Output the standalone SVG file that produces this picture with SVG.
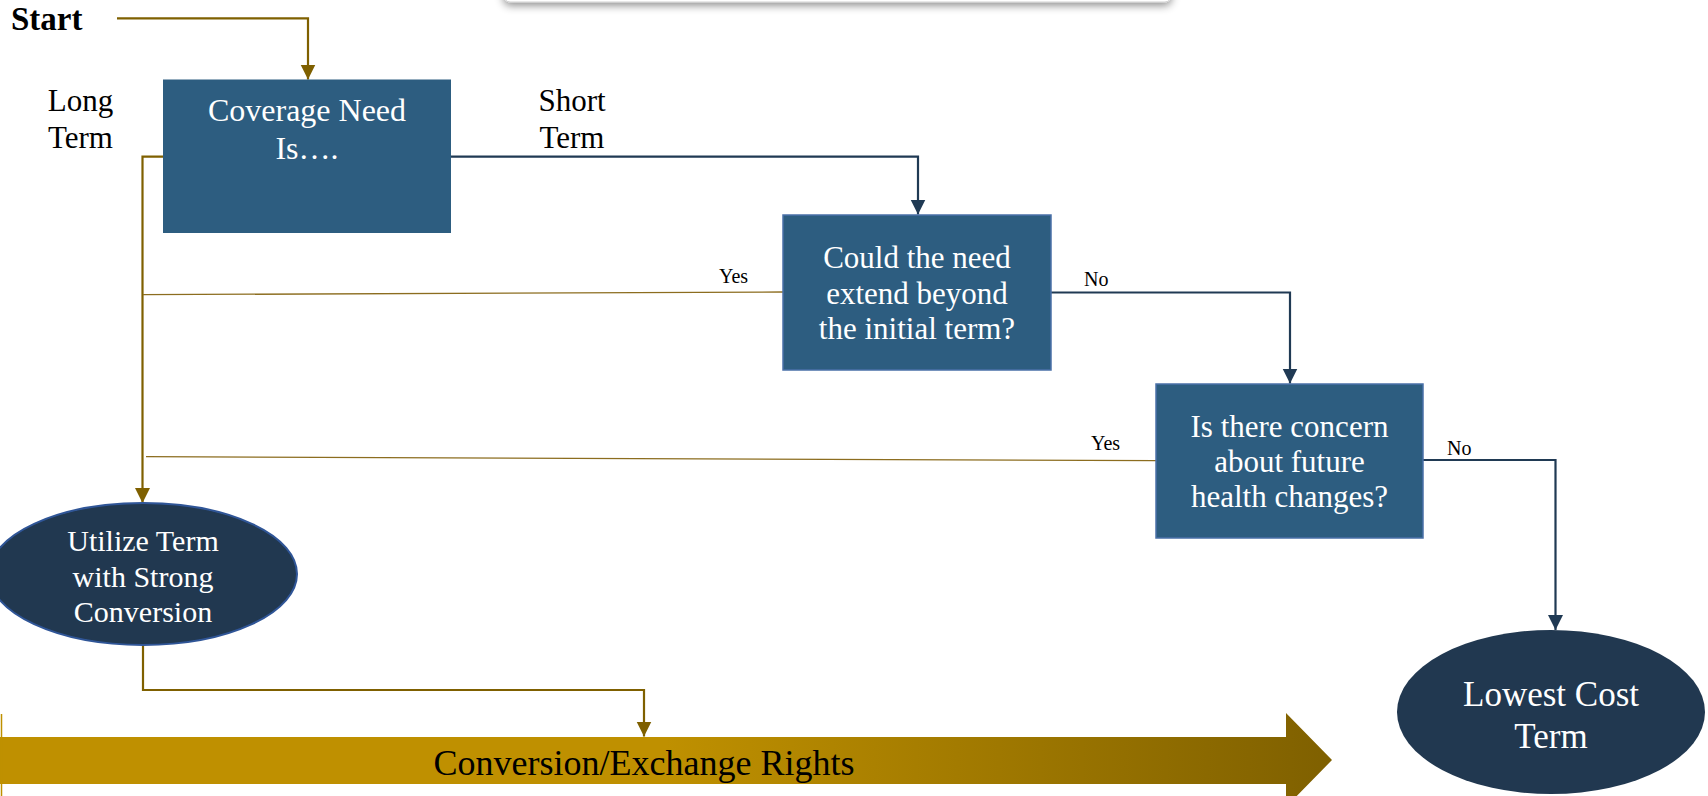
<svg xmlns="http://www.w3.org/2000/svg" width="1708" height="796" viewBox="0 0 1708 796">
<defs>
<style>
.lbl{font-family:"Liberation Serif","Times New Roman",serif;fill:#000}
.wt{font-family:"Liberation Serif","Times New Roman",serif;fill:#fff;text-anchor:middle}
.box{fill:#2d5d80}
.dec{fill:#2d5d80;stroke:#4a70a8;stroke-width:1.5}
.oval{fill:#213850}
.gold{fill:none;stroke:#7f6000;stroke-width:2.2}
.goldthin{fill:none;stroke:#8c6d1f;stroke-width:1.3}
.navy{fill:none;stroke:#203a54;stroke-width:2.2}
</style>
<marker id="ag" markerUnits="userSpaceOnUse" markerWidth="16" markerHeight="16" viewBox="0 0 16 16" refX="15" refY="8" orient="auto">
<path d="M0,0.5 L15,8 L0,15.5 Z" fill="#7f6000"/>
</marker>
<marker id="an" markerUnits="userSpaceOnUse" markerWidth="16" markerHeight="16" viewBox="0 0 16 16" refX="15" refY="8" orient="auto">
<path d="M0,0.5 L15,8 L0,15.5 Z" fill="#203a54"/>
</marker>
<linearGradient id="band" x1="0" y1="0" x2="1332" y2="0" gradientUnits="userSpaceOnUse">
<stop offset="0" stop-color="#bf9000"/>
<stop offset="0.5" stop-color="#bf9000"/>
<stop offset="1" stop-color="#7f6000"/>
</linearGradient>
<filter id="sh" x="-10%" y="-100%" width="120%" height="400%">
<feDropShadow dx="0" dy="3" stdDeviation="4" flood-color="#000" flood-opacity="0.45"/>
</filter>
</defs>

<g id="topbox">
<rect x="504" y="-30" width="667" height="32" rx="6" fill="#fff" stroke="#d0d0d0" stroke-width="1" filter="url(#sh)"/>
</g>

<g id="band-arrow">
<polygon points="0,737 1286,737 1286,713 1332,760 1286,807 1286,784 0,784" fill="url(#band)"/>
<line x1="1.5" y1="714" x2="1.5" y2="796" stroke="#bf9000" stroke-width="1.5"/>
<text class="lbl" x="644" y="775" font-size="36" text-anchor="middle">Conversion/Exchange Rights</text>
</g>

<g id="connectors">
<path class="gold" d="M117,18.3 H308 V79.5" marker-end="url(#ag)"/>
<path class="gold" d="M163,156.7 H142.5 V503" marker-end="url(#ag)"/>
<path class="navy" d="M451,156.7 H918 V214.5" marker-end="url(#an)"/>
<path class="goldthin" d="M783,292 L143,294.7"/>
<path class="navy" d="M1051,292.5 H1290 V383.5" marker-end="url(#an)"/>
<path class="goldthin" d="M1156,460.7 L146,456.7"/>
<path class="navy" d="M1423,460 H1555.5 V630" marker-end="url(#an)"/>
<path class="gold" d="M143,645 V690 H644 V736.5" marker-end="url(#ag)"/>
</g>

<g id="labels">
<text class="lbl" x="11" y="30" font-size="33" font-weight="bold">Start</text>
<text class="lbl" x="80.5" y="111" font-size="31" text-anchor="middle">Long</text>
<text class="lbl" x="80.5" y="148" font-size="31" text-anchor="middle">Term</text>
<text class="lbl" x="572" y="111" font-size="31" text-anchor="middle">Short</text>
<text class="lbl" x="572" y="148" font-size="31" text-anchor="middle">Term</text>
<text class="lbl" x="719" y="283" font-size="20">Yes</text>
<text class="lbl" x="1084" y="286" font-size="20">No</text>
<text class="lbl" x="1091" y="450" font-size="20">Yes</text>
<text class="lbl" x="1447" y="455" font-size="20">No</text>
</g>

<g id="coverage">
<rect class="box" x="163" y="79.5" width="288" height="153.5"/>
<text class="wt" x="307" y="121" font-size="32">Coverage Need</text>
<text class="wt" x="307" y="159" font-size="32">Is….</text>
</g>

<g id="extend">
<rect class="dec" x="783" y="215" width="268" height="155"/>
<text class="wt" x="917" y="268" font-size="31">Could the need</text>
<text class="wt" x="917" y="304" font-size="31">extend beyond</text>
<text class="wt" x="917" y="339" font-size="31">the initial term?</text>
</g>

<g id="health">
<rect class="dec" x="1156" y="384" width="267" height="154"/>
<text class="wt" x="1289.5" y="437" font-size="31">Is there concern</text>
<text class="wt" x="1289.5" y="472" font-size="31">about future</text>
<text class="wt" x="1289.5" y="507" font-size="31">health changes?</text>
</g>

<g id="utilize">
<ellipse class="oval" cx="143" cy="574" rx="154" ry="71" stroke="#2f5597" stroke-width="2"/>
<text class="wt" x="143" y="551" font-size="30">Utilize Term</text>
<text class="wt" x="143" y="587" font-size="30">with Strong</text>
<text class="wt" x="143" y="622" font-size="30">Conversion</text>
</g>

<g id="lowest">
<ellipse class="oval" cx="1551" cy="712" rx="154" ry="82"/>
<text class="wt" x="1551" y="706" font-size="35">Lowest Cost</text>
<text class="wt" x="1551" y="748" font-size="35">Term</text>
</g>
</svg>
